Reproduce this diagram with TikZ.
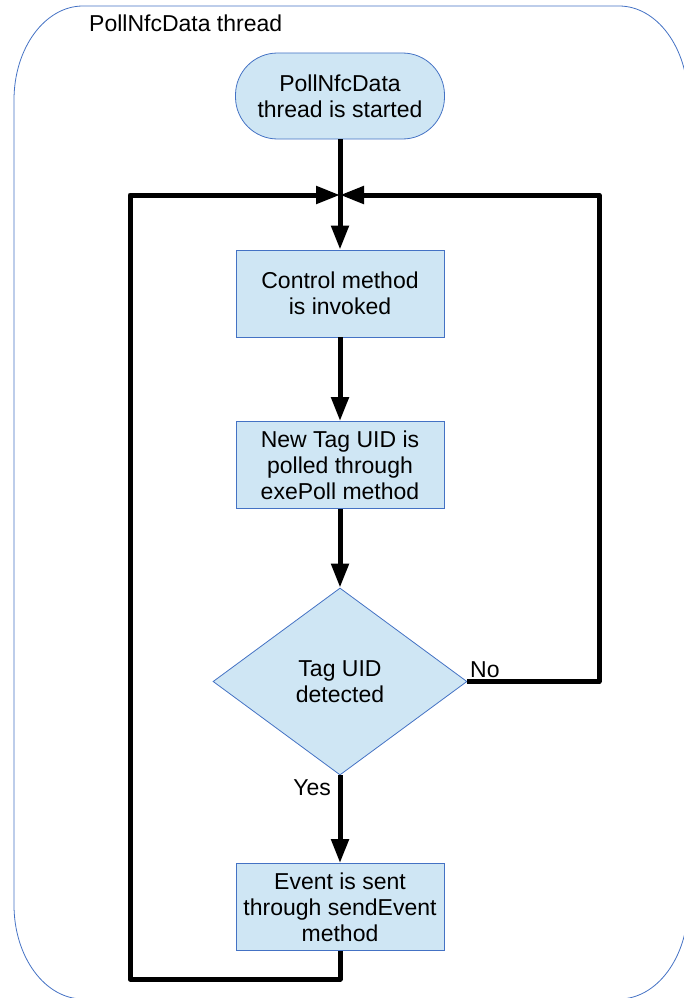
\documentclass[tikz,border=0pt]{standalone}
\usepackage{fontspec}
\setmainfont{Liberation Sans}
\usetikzlibrary{arrows.meta,shapes.geometric}
\definecolor{boxfill}{HTML}{CFE6F4}
\definecolor{boxline}{HTML}{4472C4}
\begin{document}
\begin{tikzpicture}[x=1pt,y=-1pt,
  every node/.style={font=\fontsize{23}{26}\selectfont, align=center, inner sep=0pt},
  proc/.style={draw=boxline, fill=boxfill, line width=0.8pt, minimum width=208pt, minimum height=87pt},
  term/.style={proc, rounded corners=42pt, minimum width=209pt, minimum height=86pt},
  decision/.style={diamond, draw=boxline, fill=boxfill, line width=0.8pt, minimum width=254pt, minimum height=187pt},
  flow/.style={line width=5pt, line join=round, line cap=butt},
  tip/.style={-{Triangle[width=17pt,length=24pt]}},
  frame/.style={draw=boxline, line width=0.8pt},
  lbl/.style={font=\fontsize{23}{26}\selectfont}]
\useasboundingbox (0,0) rectangle (684,998);
\begin{scope}
\clip (0,0) rectangle (684,998);
\draw[frame] (14,100) .. controls (14,48) and (45,6) .. (83,6) -- (619,6)
  .. controls (657,6) and (688,48) .. (688,100) -- (688,905)
  .. controls (688,957) and (657,999) .. (619,999) -- (83,999)
  .. controls (45,999) and (14,957) .. (14,905) -- cycle;
\end{scope}
\node[lbl, anchor=base west] (title) at (89,32) {PollNfcData thread};

\node[term] (start) at (340,96) {PollNfcData\\thread is started};
\node[proc] (ctrl) at (340,293.5) {Control method\\is invoked};
\node[proc] (poll) at (340,465) {New Tag UID is\\polled through\\exePoll method};
\node[decision] (dec) at (340,681.5) {Tag UID\\detected};
\node[proc] (event) at (340,907) {Event is sent\\through sendEvent\\method};

\coordinate (merge) at (340,195);
\coordinate (bl) at (130,979);
\coordinate (tr) at (599,195);

\draw[flow] (start.south) -- (merge);
\draw[flow, tip] (merge) -- (ctrl.north);
\draw[flow, tip] (ctrl.south) -- (poll.north);
\draw[flow, tip] (poll.south) -- (dec.north);
\draw[flow, tip] (dec.south) -- (event.north);
\draw[flow, tip] (event.south) |- (bl) |- (merge);
\draw[flow, tip] (dec.east) -| (tr) -- (merge);

\node[lbl, anchor=base west] (no) at (470,677) {No};
\node[lbl, anchor=base east] (yes) at (331,795) {Yes};
\end{tikzpicture}
\end{document}
